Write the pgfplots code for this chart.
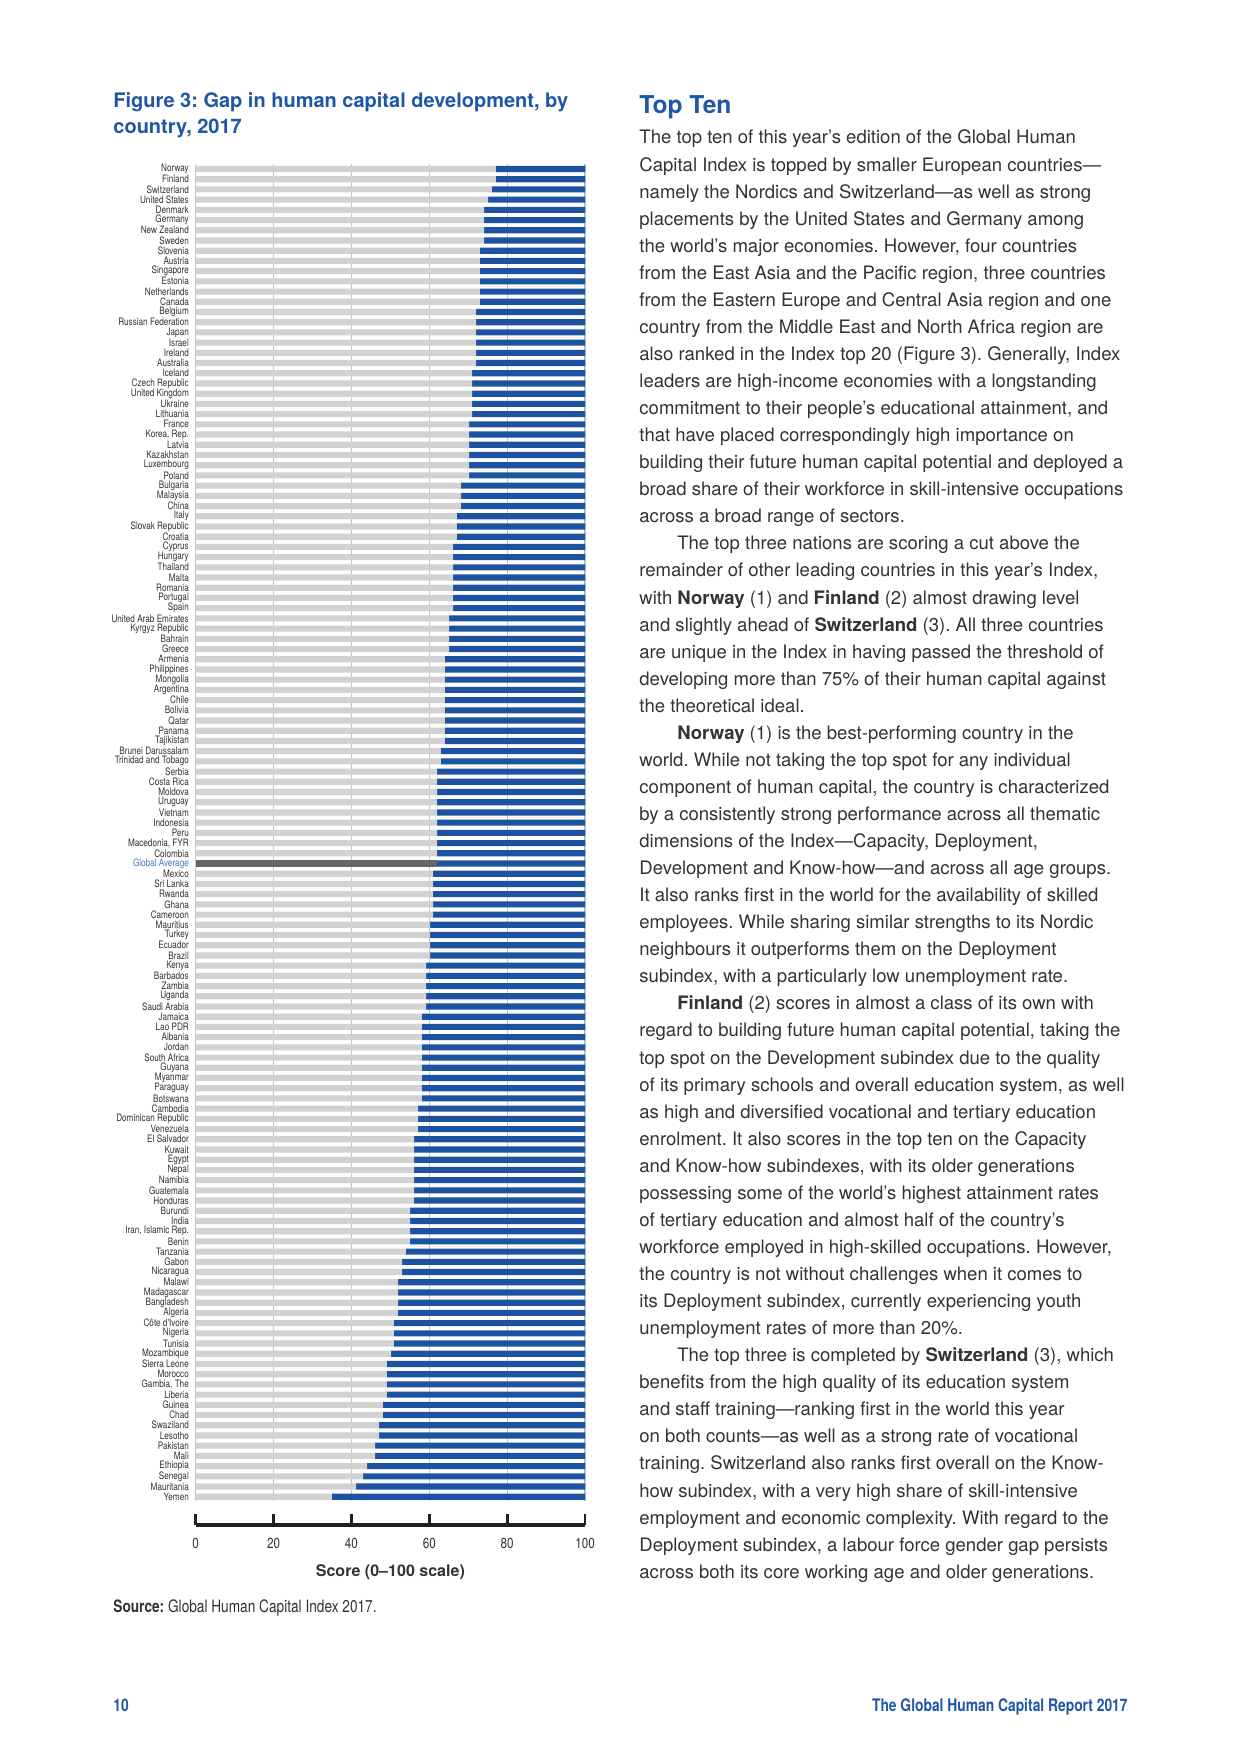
\documentclass[border=0pt]{standalone}
\usepackage{pgfplots}
\usepackage{pgfplotstable}
\pgfplotsset{compat=1.18}
\usepackage{fontspec}
\setmainfont{TeX Gyre Heros}
\newfontfamily\cond[FakeStretch=0.8]{TeX Gyre Heros}
\frenchspacing

\definecolor{wefblue}{HTML}{1C52A0}
\definecolor{titleblue}{HTML}{1F57A6}
\definecolor{bargray}{HTML}{D2D2D2}
\definecolor{avggray}{HTML}{666666}
\definecolor{gridgray}{HTML}{C4C4C4}
\definecolor{edgeblue}{HTML}{AFC0DA}
\definecolor{avgblue}{HTML}{4A79C0}
\definecolor{txt}{HTML}{333333}

\newcommand\ind{\hspace*{18.2pt}}

% score = developed share, gap = 100 - score
\pgfplotstableread[col sep=semicolon]{
row;name;score;avg;gap
1;Norway;77.1;0;22.9
2;Finland;77.1;0;22.9
3;Switzerland;76.1;0;23.9
4;United States;75.1;0;24.9
5;Denmark;74.1;0;25.9
6;Germany;74.1;0;25.9
7;New Zealand;74.1;0;25.9
8;Sweden;74.1;0;25.9
9;Slovenia;73.0;0;27.0
10;Austria;73.0;0;27.0
11;Singapore;73.0;0;27.0
12;Estonia;73.0;0;27.0
13;Netherlands;73.0;0;27.0
14;Canada;73.0;0;27.0
15;Belgium;72.0;0;28.0
16;Russian Federation;72.0;0;28.0
17;Japan;72.0;0;28.0
18;Israel;72.0;0;28.0
19;Ireland;72.0;0;28.0
20;Australia;72.0;0;28.0
21;Iceland;71.0;0;29.0
22;Czech Republic;71.0;0;29.0
23;United Kingdom;71.0;0;29.0
24;Ukraine;71.0;0;29.0
25;Lithuania;71.0;0;29.0
26;France;70.2;0;29.8
27;Korea, Rep.;70.2;0;29.8
28;Latvia;70.2;0;29.8
29;Kazakhstan;70.2;0;29.8
30;Luxembourg;70.2;0;29.8
31;Poland;70.2;0;29.8
32;Bulgaria;68.2;0;31.8
33;Malaysia;68.2;0;31.8
34;China;68.2;0;31.8
35;Italy;67.1;0;32.9
36;Slovak Republic;67.1;0;32.9
37;Croatia;67.1;0;32.9
38;Cyprus;66.1;0;33.9
39;Hungary;66.1;0;33.9
40;Thailand;66.1;0;33.9
41;Malta;66.1;0;33.9
42;Romania;66.1;0;33.9
43;Portugal;66.1;0;33.9
44;Spain;66.1;0;33.9
45;United Arab Emirates;65.1;0;34.9
46;Kyrgyz Republic;65.1;0;34.9
47;Bahrain;65.1;0;34.9
48;Greece;65.1;0;34.9
49;Armenia;64.0;0;36.0
50;Philippines;64.0;0;36.0
51;Mongolia;64.0;0;36.0
52;Argentina;64.0;0;36.0
53;Chile;64.0;0;36.0
54;Bolivia;64.0;0;36.0
55;Qatar;64.0;0;36.0
56;Panama;64.0;0;36.0
57;Tajikistan;64.0;0;36.0
58;Brunei Darussalam;63.0;0;37.0
59;Trinidad and Tobago;63.0;0;37.0
60;Serbia;62.0;0;38.0
61;Costa Rica;62.0;0;38.0
62;Moldova;62.0;0;38.0
63;Uruguay;62.0;0;38.0
64;Vietnam;62.0;0;38.0
65;Indonesia;62.0;0;38.0
66;Peru;62.0;0;38.0
67;Macedonia, FYR;62.0;0;38.0
68;Colombia;62.0;0;38.0
69;{\color{avgblue}Global Average};0;62.0;38.0
70;Mexico;61.0;0;39.0
71;Sri Lanka;61.0;0;39.0
72;Rwanda;61.0;0;39.0
73;Ghana;61.0;0;39.0
74;Cameroon;61.0;0;39.0
75;Mauritius;60.2;0;39.8
76;Turkey;60.2;0;39.8
77;Ecuador;60.2;0;39.8
78;Brazil;60.2;0;39.8
79;Kenya;59.2;0;40.8
80;Barbados;59.2;0;40.8
81;Zambia;59.2;0;40.8
82;Uganda;59.2;0;40.8
83;Saudi Arabia;59.2;0;40.8
84;Jamaica;58.1;0;41.9
85;Lao PDR;58.1;0;41.9
86;Albania;58.1;0;41.9
87;Jordan;58.1;0;41.9
88;South Africa;58.1;0;41.9
89;Guyana;58.1;0;41.9
90;Myanmar;58.1;0;41.9
91;Paraguay;58.1;0;41.9
92;Botswana;58.1;0;41.9
93;Cambodia;57.1;0;42.9
94;Dominican Republic;57.1;0;42.9
95;Venezuela;57.1;0;42.9
96;El Salvador;56.1;0;43.9
97;Kuwait;56.1;0;43.9
98;Egypt;56.1;0;43.9
99;Nepal;56.1;0;43.9
100;Namibia;56.1;0;43.9
101;Guatemala;56.1;0;43.9
102;Honduras;56.1;0;43.9
103;Burundi;55.1;0;44.9
104;India;55.1;0;44.9
105;Iran, Islamic Rep.;55.1;0;44.9
106;Benin;55.1;0;44.9
107;Tanzania;54.0;0;46.0
108;Gabon;53.0;0;47.0
109;Nicaragua;53.0;0;47.0
110;Malawi;52.0;0;48.0
111;Madagascar;52.0;0;48.0
112;Bangladesh;52.0;0;48.0
113;Algeria;52.0;0;48.0
114;Côte d'Ivoire;50.9;0;49.1
115;Nigeria;50.9;0;49.1
116;Tunisia;50.9;0;49.1
117;Mozambique;50.2;0;49.8
118;Sierra Leone;49.1;0;50.9
119;Morocco;49.1;0;50.9
120;Gambia, The;49.1;0;50.9
121;Liberia;49.1;0;50.9
122;Guinea;48.1;0;51.9
123;Chad;48.1;0;51.9
124;Swaziland;47.1;0;52.9
125;Lesotho;47.1;0;52.9
126;Pakistan;46.1;0;53.9
127;Mali;46.1;0;53.9
128;Ethiopia;44.0;0;56.0
129;Senegal;43.0;0;57.0
130;Mauritania;41.2;0;58.8
131;Yemen;35.0;0;65.0
}\gapdata

\begin{document}
\begin{tikzpicture}
% page in pixel units of the reference (1240 x 1754)
\begin{scope}[x=0.48006pt,y=-0.48006pt]
\path[fill=white] (0,0) rectangle (1240,1754);

\node[anchor=base west, inner sep=0, text=titleblue, font=\fontsize{9.6}{13}\selectfont\bfseries] at (113,107.3) {Figure 3: Gap in human capital development, by};
\node[anchor=base west, inner sep=0, text=titleblue, font=\fontsize{9.6}{13}\selectfont\bfseries] at (113,134) {country, 2017};

\node[anchor=base west, inner sep=0, text=titleblue, font=\fontsize{11.8}{14}\selectfont\bfseries] at (639,113.3) {Top Ten};

\foreach \t [count=\i] in {
{The top ten of this year’s edition of the Global Human},
{Capital Index is topped by smaller European countries—},
{namely the Nordics and Switzerland—as well as strong},
{placements by the United States and Germany among},
{the world’s major economies. However, four countries},
{from the East Asia and the Pacific region, three countries},
{from the Eastern Europe and Central Asia region and one},
{country from the Middle East and North Africa region are},
{also ranked in the Index top 20 (Figure 3). Generally, Index},
{leaders are high-income economies with a longstanding},
{commitment to their people’s educational attainment, and},
{that have placed correspondingly high importance on},
{building their future human capital potential and deployed a},
{broad share of their workforce in skill-intensive occupations},
{across a broad range of sectors.},
{\ind The top three nations are scoring a cut above the},
{remainder of other leading countries in this year’s Index,},
{with \textbf{Norway} (1) and \textbf{Finland} (2) almost drawing level},
{and slightly ahead of \textbf{Switzerland} (3). All three countries},
{are unique in the Index in having passed the threshold of},
{developing more than 75\% of their human capital against},
{the theoretical ideal.},
{\ind\textbf{Norway} (1) is the best-performing country in the},
{world. While not taking the top spot for any individual},
{component of human capital, the country is characterized},
{by a consistently strong performance across all thematic},
{dimensions of the Index—Capacity, Deployment,},
{Development and Know-how—and across all age groups.},
{It also ranks first in the world for the availability of skilled},
{employees. While sharing similar strengths to its Nordic},
{neighbours it outperforms them on the Deployment},
{subindex, with a particularly low unemployment rate.},
{\ind\textbf{Finland} (2) scores in almost a class of its own with},
{regard to building future human capital potential, taking the},
{top spot on the Development subindex due to the quality},
{of its primary schools and overall education system, as well},
{as high and diversified vocational and tertiary education},
{enrolment. It also scores in the top ten on the Capacity},
{and Know-how subindexes, with its older generations},
{possessing some of the world’s highest attainment rates},
{of tertiary education and almost half of the country’s},
{workforce employed in high-skilled occupations. However,},
{the country is not without challenges when it comes to},
{its Deployment subindex, currently experiencing youth},
{unemployment rates of more than 20\%.},
{\ind The top three is completed by \textbf{Switzerland} (3), which},
{benefits from the high quality of its education system},
{and staff training—ranking first in the world this year},
{on both counts—as well as a strong rate of vocational},
{training. Switzerland also ranks first overall on the Know-},
{how subindex, with a very high share of skill-intensive},
{employment and economic complexity. With regard to the},
{Deployment subindex, a labour force gender gap persists},
{across both its core working age and older generations.}
}{
  \node[anchor=base west, inner sep=0, text=txt, font=\fontsize{8.9}{13}\selectfont] at (639,{144+(\i-1)*27.06}) {\t};
}

\node[anchor=base west, inner sep=0, text=txt, font=\cond\fontsize{8.2}{10}\selectfont] at (113,1612) {\textbf{Source:} Global Human Capital Index 2017.};
\node[anchor=base west, inner sep=0, text=titleblue, font=\cond\fontsize{8.3}{10}\selectfont\bfseries] at (113,1711) {10};
\node[anchor=base east, inner sep=0, text=titleblue, font=\cond\fontsize{8.3}{10}\selectfont\bfseries] at (1128,1711) {The Global Human Capital Report 2017};
\end{scope}

% bars
\begin{axis}[
  at={(93.95pt,-78.92pt)}, anchor=north west,
  scale only axis, width=186.89pt, height=641.55pt,
  xbar stacked, bar width=0.6,
  xmin=0, xmax=100, ymin=0.55, ymax=131.4, y dir=reverse,
  enlargelimits=false,
  axis line style={draw=none},
  xtick={0,20,40,60,80}, xticklabels={},
  xmajorgrids, grid style={gridgray, line width=0.5pt},
  extra x ticks={100}, extra x tick labels={},
  extra x tick style={grid=major, major grid style={edgeblue, line width=0.6pt}},
  major tick length=0pt,
  xtick style={draw=none}, ytick style={draw=none},
  ytick={1,...,131},
  yticklabels from table={\gapdata}{name},
  yticklabel style={font=\cond\fontsize{4.9}{5}\selectfont, text=txt, inner sep=0pt, xshift=-3.1pt},
]
\addplot[fill=bargray, draw=none] table[x=score, y=row] {\gapdata};
\addplot[fill=avggray, draw=none] table[x=avg, y=row] {\gapdata};
\addplot[fill=wefblue, draw=none] table[x=gap, y=row] {\gapdata};
\end{axis}

% scale below the bars
\begin{axis}[
  at={(93.95pt,-732.09pt)}, anchor=south west,
  scale only axis, width=186.89pt, height=5.3pt,
  xmin=0, xmax=100, ymin=0, ymax=1,
  axis x line*=bottom, hide y axis,
  xtick={0,20,...,100},
  tick align=inside, major tick length=5.3pt,
  x axis line style={line width=1.5pt, black!88},
  xtick style={line width=1.4pt, black!88},
  /pgf/number format/assume math mode=true,
  xticklabel style={font=\cond\fontsize{7}{8}\selectfont, text=txt, anchor=north, inner sep=0pt, yshift=-6.2pt},
  xlabel={Score (0–100 scale)},
  xlabel style={at={(axis description cs:0.5,0)}, anchor=base, yshift=-24.8pt, inner sep=0pt, font=\fontsize{7.7}{9}\selectfont\bfseries, text=txt},
]
\end{axis}
\end{tikzpicture}
\end{document}
